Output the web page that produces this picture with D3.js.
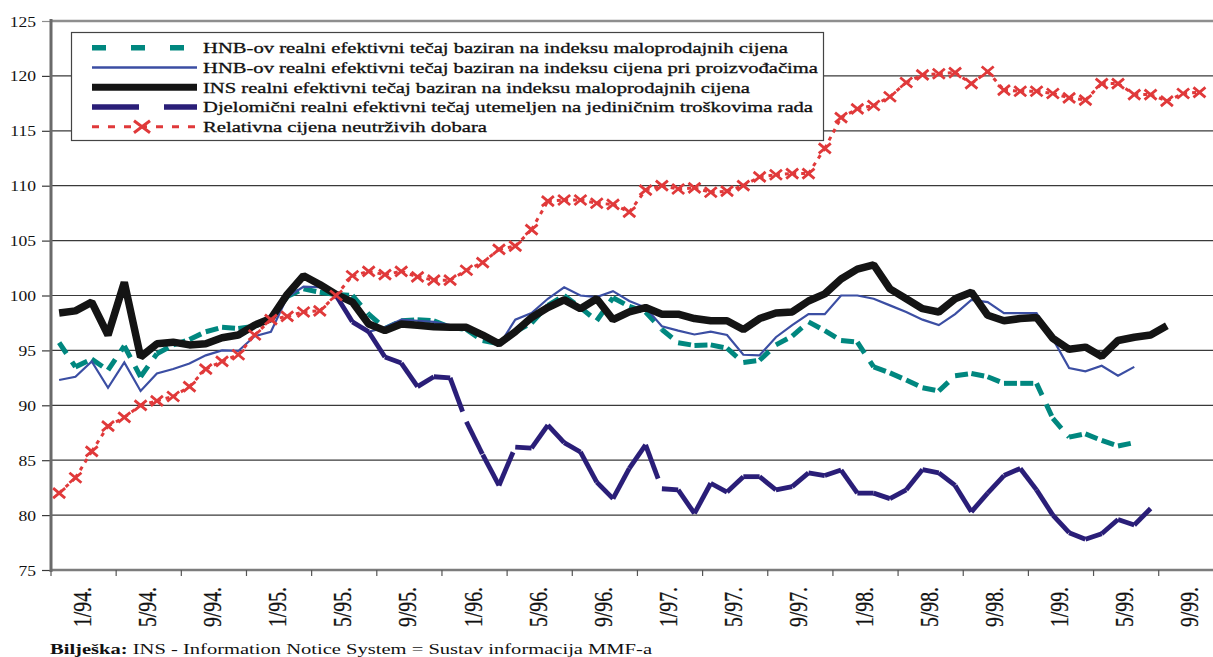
<!DOCTYPE html>
<html>
<head>
<meta charset="utf-8">
<script src="https://cdn.jsdelivr.net/npm/d3@7"></script>
<style>
  body { margin: 0; background: #fff; }
  svg { display: block; }
  text { font-family: "Liberation Serif", "Times New Roman", serif; fill: #111; }
</style>
</head>
<body>
<svg id="chart" width="1213" height="657"></svg>
<script>

// ---- data ----------------------------------------------------------------

// monthly categories 1/94 .. 12/99
const years = ["94", "95", "96", "97", "98", "99"];
const monthNums = [1, 2, 3, 4, 5, 6, 7, 8, 9, 10, 11, 12];
const months = years.flatMap(y => monthNums.map(m => m + "/" + y));

// axis labels, one for every four months
const tickLabels = ["1/94.", "5/94.", "9/94.", "1/95.", "5/95.", "9/95.",
    "1/96.", "5/96.", "9/96.", "1/97.", "5/97.", "9/97.",
    "1/98.", "5/98.", "9/98.", "1/99.", "5/99.", "9/99."];

const yTicks = [75, 80, 85, 90, 95, 100, 105, 110, 115, 120, 125];

const seriesNames = [
    "HNB-ov realni efektivni tečaj baziran na indeksu maloprodajnih cijena",
    "HNB-ov realni efektivni tečaj baziran na indeksu cijena pri proizvođačima",
    "INS realni efektivni tečaj baziran na indeksu maloprodajnih cijena",
    "Djelomični realni efektivni tečaj utemeljen na jediničnim troškovima rada",
    "Relativna cijena neutrživih dobara"
];

// HNB REER, retail prices (teal dashes)
const hnbRetail = [
    95.7, 93.5, 94.2, 93.2, 95.4, 92.6, 94.7, 95.5, 96.0, 96.7, 97.1, 97.0,
    97.2, 97.8, 99.9, 100.6, 100.3, 100.1, 100.0, 98.3, 97.0, 97.7, 97.8, 97.7,
    97.1, 96.9, 95.9, 95.6, 96.7, 97.5, 99.1, 100.0, 98.9, 97.7, 99.8, 99.0,
    98.5, 96.9, 95.7, 95.45, 95.5, 95.2, 93.9, 94.1, 95.5, 96.3, 97.6, 96.8,
    95.9, 95.75, 93.5, 92.95, 92.3, 91.6, 91.3, 92.7, 92.9, 92.6, 92.0, 92.0,
    92.0, 88.8, 87.1, 87.4, 86.8, 86.3, 86.6
];

// HNB REER, producer prices (thin blue)
const hnbProducer = [
    92.3, 92.6, 94.0, 91.6, 93.9, 91.3, 92.9, 93.3, 93.8, 94.55, 95.0, 94.95,
    96.3, 96.7, 99.85, 100.8, 100.75, 100.15, 97.7, 96.7, 97.1, 97.8, 97.7, 97.6,
    97.3, 97.0, 96.2, 95.45, 97.8, 98.4, 99.7, 100.75, 100.0, 99.85, 100.4, 99.5,
    98.9, 97.2, 96.8, 96.45, 96.7, 96.4, 94.6, 94.55, 96.2, 97.3, 98.3, 98.3,
    100.0, 100.0, 99.7, 99.1, 98.5, 97.8, 97.3, 98.3, 99.6, 99.4, 98.4, 98.4,
    98.4, 96.05, 93.4, 93.1, 93.6, 92.7, 93.5
];

// INS REER, retail prices (thick black)
const insRetail = [
    98.4, 98.6, 99.4, 96.4, 101.2, 94.4, 95.6, 95.75, 95.5, 95.6, 96.15, 96.4,
    97.3, 97.9, 100.1, 101.8, 101.0, 100.1, 99.4, 97.4, 96.8, 97.4, 97.3, 97.15,
    97.1, 97.1, 96.4, 95.6, 96.7, 98.0, 98.9, 99.6, 98.8, 99.7, 97.8, 98.5,
    98.9, 98.3, 98.3, 97.9, 97.7, 97.7, 96.9, 97.9, 98.4, 98.5, 99.5, 100.15,
    101.5, 102.4, 102.8, 100.6, 99.7, 98.8, 98.5, 99.7, 100.3, 98.2, 97.7, 97.9,
    98.0, 96.1, 95.1, 95.3, 94.45, 95.9, 96.2, 96.4, 97.25
];

// partial REER, unit labour costs (navy long dashes), starts 5/95
const unitLabour = Array(17).fill(null).concat([
    100.0, 97.6, 96.7, 94.4, 93.85, 91.7, 92.6,
    92.5, 88.5, 85.5, 82.7, 86.2, 86.1, 88.2, 86.6, 85.75, 83.0, 81.5, 84.25,
    86.4, 82.4, 82.3, 80.15, 82.9, 82.1, 83.5, 83.5, 82.3, 82.6, 83.85, 83.6,
    84.1, 82.0, 82.0, 81.5, 82.3, 84.15, 83.85, 82.7, 80.3, 82.0, 83.6, 84.25,
    82.3, 80.0, 78.4, 77.8, 78.3, 79.6, 79.1, 80.6
]);

// relative price of non-tradables (red dotted with crosses)
const nonTradables = [
    82.0, 83.4, 85.8, 88.1, 88.9, 90.0, 90.4, 90.8, 91.7, 93.3, 94.0, 94.6,
    96.4, 97.8, 98.1, 98.5, 98.6, 100.0, 101.8, 102.2, 101.9, 102.2, 101.7, 101.4,
    101.4, 102.3, 103.0, 104.2, 104.5, 106.0, 108.6, 108.7, 108.7, 108.4, 108.3, 107.6,
    109.6, 110.0, 109.7, 109.8, 109.4, 109.5, 110.0, 110.8, 111.0, 111.1, 111.1, 113.4,
    116.2, 117.0, 117.3, 118.1, 119.4, 120.1, 120.2, 120.3, 119.3, 120.4, 118.7, 118.6,
    118.6, 118.4, 118.0, 117.8, 119.3, 119.3, 118.3, 118.3, 117.7, 118.4, 118.5
];

const footnoteBold = "Bilješka:";
const footnoteText = " INS - Information Notice System = Sustav informacija MMF-a";

// ---- layout ----------------------------------------------------------------

const plotLeft = 51, plotTop = 21, plotBottom = 570, plotRight = 1213;
const monthWidth = 16.29;

const svg = d3.select("#chart");

const x = d3.scaleBand()
    .domain(months)
    .range([plotLeft, plotLeft + months.length * monthWidth]);

// one band per group of four months, used for the axis labels
const groups = d3.scaleBand()
    .domain(tickLabels)
    .range(x.range());

const y = d3.scaleLinear()
    .domain([75, 125])
    .range([plotBottom, plotTop]);

const cx = i => x(months[i]) + x.bandwidth() / 2;

// ---- grid and axes ---------------------------------------------------------

svg.append("g")
    .selectAll("line")
    .data(yTicks.filter(v => v > 75 && v < 125))
    .join("line")
    .attr("x1", plotLeft).attr("x2", plotRight)
    .attr("y1", d => y(d)).attr("y2", d => y(d))
    .attr("stroke", "#3a3a3a")
    .attr("stroke-width", 1.2);

// top line of the plot area
svg.append("line")
    .attr("x1", plotLeft).attr("x2", plotRight)
    .attr("y1", y(125)).attr("y2", y(125))
    .attr("stroke", "#8e8e8e")
    .attr("stroke-width", 2.5);

const yAxis = svg.append("g")
    .attr("transform", `translate(${plotLeft},0)`)
    .call(d3.axisLeft(y).tickValues(yTicks).tickSize(9).tickFormat(d3.format("d")));

yAxis.attr("font-family", null).attr("font-size", 15);
yAxis.select(".domain").remove();
yAxis.selectAll(".tick line")
    .attr("stroke", d => d === 125 ? "#8e8e8e" : "#3a3a3a")
    .attr("stroke-width", 1.2);
yAxis.selectAll(".tick text")
    .attr("x", null).attr("dy", null)
    .attr("transform", "translate(-15,5) scale(1.17,1)");

// bottom axis line with a tick at every four-month boundary
svg.append("line")
    .attr("x1", plotLeft).attr("x2", plotRight)
    .attr("y1", plotBottom).attr("y2", plotBottom)
    .attr("stroke", "#7c7c7c")
    .attr("stroke-width", 2.5);

svg.append("g")
    .selectAll("line")
    .data(tickLabels)
    .join("line")
    .attr("x1", d => groups(d)).attr("x2", d => groups(d))
    .attr("y1", plotBottom).attr("y2", plotBottom + 6)
    .attr("stroke", "#555")
    .attr("stroke-width", 1.2);

const xAxis = svg.append("g")
    .attr("transform", `translate(0,${plotBottom})`)
    .call(d3.axisBottom(groups).tickSize(0));

xAxis.attr("font-family", null).attr("font-size", 25);
xAxis.select(".domain").remove();
xAxis.selectAll(".tick text")
    .attr("y", 0).attr("x", 0)
    .attr("dy", "0.34em")
    .attr("text-anchor", "end")
    .attr("transform", "translate(-1.5,17) rotate(-90)")
    .attr("textLength", 40)
    .attr("lengthAdjust", "spacingAndGlyphs")
    .attr("stroke", "#111")
    .attr("stroke-width", 0.3);

// left axis
svg.append("line")
    .attr("x1", plotLeft).attr("x2", plotLeft)
    .attr("y1", plotTop - 2).attr("y2", plotBottom + 2)
    .attr("stroke", "#6a6a6a")
    .attr("stroke-width", 3);

// ---- series ----------------------------------------------------------------

// pairs of neighbouring defined points; Excel restarts the dash on every segment
function segments(values) {
    const out = [];
    for (let i = 0; i < values.length - 1; i++) {
        if (values[i] != null && values[i + 1] != null) out.push([i, values[i], values[i + 1]]);
    }
    return out;
}

function dashedSeries(values, color, width, dash) {
    svg.append("g")
        .selectAll("line")
        .data(segments(values))
        .join("line")
        .attr("x1", d => cx(d[0])).attr("y1", d => y(d[1]))
        .attr("x2", d => cx(d[0] + 1)).attr("y2", d => y(d[2]))
        .attr("stroke", color)
        .attr("stroke-width", width)
        .attr("stroke-dasharray", dash);
}

const line = d3.line()
    .defined(d => d != null)
    .x((d, i) => cx(i))
    .y(d => y(d));

dashedSeries(hnbRetail, "#00877f", 5, "13,10");

svg.append("path")
    .datum(hnbProducer)
    .attr("d", line)
    .attr("fill", "none")
    .attr("stroke", "#3b4ea3")
    .attr("stroke-width", 2.2);

svg.append("path")
    .datum(insRetail)
    .attr("d", line)
    .attr("fill", "none")
    .attr("stroke", "#141414")
    .attr("stroke-width", 7.5)
    .attr("stroke-linejoin", "bevel");

dashedSeries(unitLabour, "#2a1e78", 4.8, "36,13");

dashedSeries(nonTradables, "#e0393a", 3, "4,5");

const cross = "M-6,-5L6,5M-6,5L6,-5";
svg.append("g")
    .selectAll("path")
    .data(nonTradables)
    .join("path")
    .attr("transform", (d, i) => `translate(${cx(i)},${y(d)})`)
    .attr("d", cross)
    .attr("fill", "none")
    .attr("stroke", "#e0393a")
    .attr("stroke-width", 2.8);

// ---- legend ----------------------------------------------------------------

const legend = svg.append("g");

legend.append("rect")
    .attr("x", 71.5).attr("y", 32.5)
    .attr("width", 752).attr("height", 108)
    .attr("fill", "#fff")
    .attr("stroke", "#444")
    .attr("stroke-width", 1.2);

const legendStyles = [
    { color: "#00877f", width: 5.5, dash: "14,25" },
    { color: "#3b4ea3", width: 2.5, dash: null },
    { color: "#141414", width: 7, dash: null },
    { color: "#2a1e78", width: 5.5, dash: "47,25" },
    { color: "#e0393a", width: 3, dash: "7,9" }
];
const legendLengths = [585, 615, 547, 610, 284];

const rows = legend.selectAll("g.row")
    .data(seriesNames)
    .join("g")
    .attr("class", "row")
    .attr("transform", (d, i) => `translate(0,${47.7 + i * 19.75})`);

rows.append("line")
    .attr("x1", 92).attr("x2", 197)
    .attr("y1", 0).attr("y2", 0)
    .attr("stroke", (d, i) => legendStyles[i].color)
    .attr("stroke-width", (d, i) => legendStyles[i].width)
    .attr("stroke-dasharray", (d, i) => legendStyles[i].dash);

rows.append("text")
    .attr("x", 203).attr("y", 5.5)
    .attr("font-size", 15)
    .attr("textLength", (d, i) => legendLengths[i])
    .attr("lengthAdjust", "spacingAndGlyphs")
    .attr("stroke", "#111")
    .attr("stroke-width", 0.3)
    .text(d => d);

rows.filter((d, i) => i === 4)
    .append("path")
    .attr("transform", "translate(142,0)")
    .attr("d", "M-8,-6L8,6M-8,6L8,-6")
    .attr("fill", "none")
    .attr("stroke", "#e0393a")
    .attr("stroke-width", 3);

// ---- footnote --------------------------------------------------------------

const note = svg.append("text")
    .attr("x", 50).attr("y", 654)
    .attr("font-size", 15)
    .attr("textLength", 602)
    .attr("lengthAdjust", "spacingAndGlyphs");

note.append("tspan").attr("font-weight", "bold").text(footnoteBold);
note.append("tspan").text(footnoteText);

</script>
</body>
</html>
